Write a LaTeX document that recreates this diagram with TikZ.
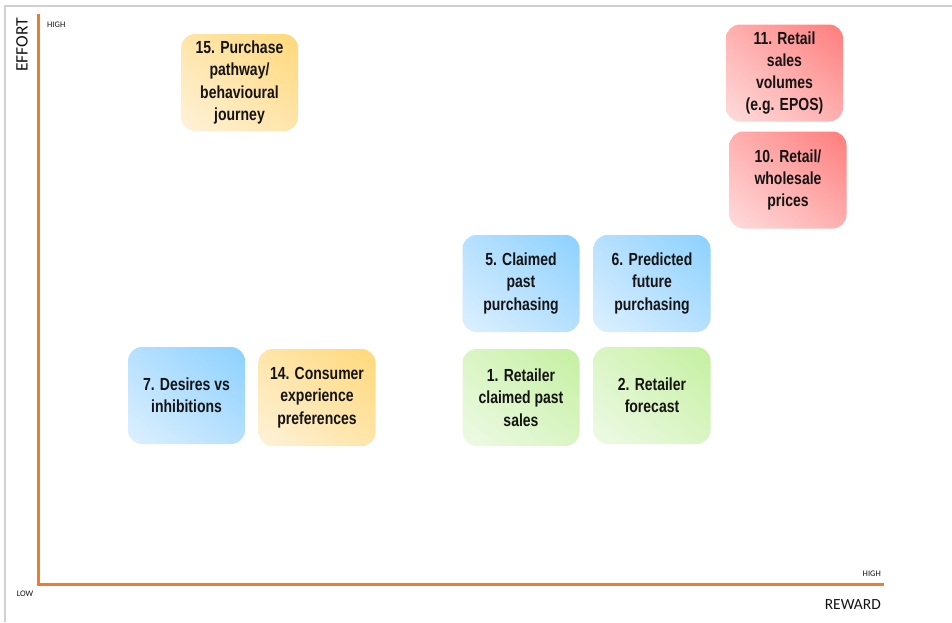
\documentclass[tikz,border=0pt]{standalone}
\usepackage{fontspec}
\usetikzlibrary{shadings}
\setmainfont{Liberation Sans}[FakeStretch=0.8]
\newfontfamily\calib{Carlito}
\definecolor{axisorange}{HTML}{ED7D31}
\definecolor{frame}{HTML}{D0D0D0}
\definecolor{txt}{HTML}{141414}
\definecolor{gLL}{HTML}{EEFAE6}\definecolor{gUR}{HTML}{C4F0A0}\definecolor{gM}{HTML}{DAF5C4}
\definecolor{bLL}{HTML}{DDF0FF}\definecolor{bUR}{HTML}{8CD1FF}\definecolor{bM}{HTML}{B6E0FF}
\definecolor{aLL}{HTML}{FFF2DA}\definecolor{aUR}{HTML}{FFD879}\definecolor{aM}{HTML}{FFE5AA}
\definecolor{rLL}{HTML}{FFDCDC}\definecolor{rUR}{HTML}{FF7C7C}\definecolor{rM}{HTML}{FFAFAF}
\tikzset{
  card/.style={rounded corners=14pt, minimum width=117pt, minimum height=97pt,
    align=center, text=txt, font=\bfseries\fontsize{17.5}{22.3}\selectfont, inner sep=2pt},
  greencard/.style={card, lower left=gLL, upper right=gUR, upper left=gM, lower right=gM},
  bluecard/.style={card, lower left=bLL, upper right=bUR, upper left=bM, lower right=bM},
  ambercard/.style={card, lower left=aLL, upper right=aUR, upper left=aM, lower right=aM},
  redcard/.style={card, lower left=rLL, upper right=rUR, upper left=rM, lower right=rM},
  axisline/.style={draw=axisorange, line width=3pt},
  smalllab/.style={font=\calib\fontsize{8.5}{9}\selectfont, text=txt, inner sep=0pt},
  biglab/.style={font=\calib\fontsize{15.5}{17}\selectfont, text=txt, inner sep=0pt}
}
\begin{document}
\begin{tikzpicture}[x=1pt,y=-1pt]
\useasboundingbox (0,0) rectangle (952,622);
\fill[white] (0,0) rectangle (952,622);
% frame
\coordinate (fbl) at (5,622);
\coordinate (ftl) at (5,6);
\coordinate (ftr) at (952,6);
\draw[frame, line width=1.2pt] (fbl) -- (ftl) -- (ftr);
% axes
\coordinate (ytop) at (38,14);
\coordinate (origin) at (38,584.5);
\coordinate (xend) at (884,584.5);
\draw[axisline] (ytop) -- (origin) -- (xend);
% axis labels
\node[biglab, rotate=90, font=\calib\fontsize{17.5}{19}\selectfont] (effort) at (22,45) {EFFORT};
\node[smalllab, anchor=west] (yhigh) at (47,25) {HIGH};
\node[smalllab] (low) at (25,594) {LOW};
\node[smalllab, anchor=east] (xhigh) at (881,574) {HIGH};
\node[biglab, anchor=east] (reward) at (881,605) {REWARD};
% cards
\node[ambercard] (c15) at (239.5,82.5) {15. Purchase\\pathway/\\behavioural\\journey};
\node[redcard] (c11) at (784.5,73) {11. Retail\\sales\\volumes\\(e.g. EPOS)};
\node[redcard] (c10) at (788,180) {10. Retail/\\wholesale\\prices};
\node[bluecard] (c5) at (521,283.5) {5. Claimed\\past\\purchasing};
\node[bluecard] (c6) at (652,283.5) {6. Predicted\\future\\purchasing};
\node[bluecard] (c7) at (186.5,395.5) {7. Desires vs\\inhibitions};
\node[ambercard] (c14) at (317,397.5) {14. Consumer\\experience\\preferences};
\node[greencard] (c1) at (521,397.5) {1. Retailer\\claimed past\\sales};
\node[greencard] (c2) at (652,395.5) {2. Retailer\\forecast};
\end{tikzpicture}
\end{document}
